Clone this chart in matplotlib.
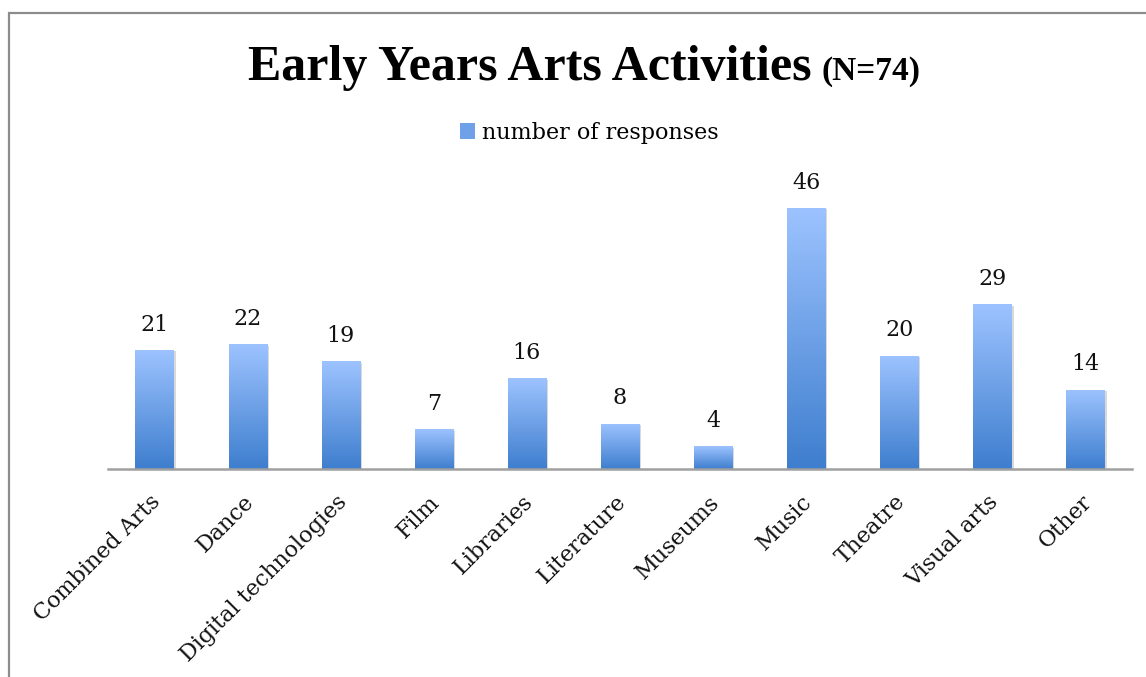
import numpy as np
import matplotlib
matplotlib.use("Agg")
import matplotlib.pyplot as plt
from matplotlib.patches import Rectangle, Patch
import matplotlib.patheffects as pe

# data
categories = ["Combined Arts", "Dance", "Digital technologies", "Film", "Libraries",
              "Literature", "Museums", "Music", "Theatre", "Visual arts", "Other"]
responses = [21, 22, 19, 7, 16, 8, 4, 46, 20, 29, 14]
series_name = "number of responses"
title_main = "Early Years Arts Activities"
title_note = "(N=74)"

top_col = np.array([157, 195, 255]) / 255.0
bot_col = np.array([62, 126, 206]) / 255.0
lab_font = "DejaVu Serif"

fig = plt.figure(figsize=(11.46, 6.77), dpi=100)
W, H = 1146, 677
ax = fig.add_axes([108 / W, 208 / H, 1024 / W, 283.7 / H])

x = np.arange(len(categories))
bw = 0.41
bars = ax.bar(x, responses, width=bw, color=bot_col, zorder=2,
              path_effects=[pe.SimplePatchShadow(offset=(1.5, -1), alpha=0.15,
                                                 shadow_rgbFace="black"),
                            pe.Normal()])

# vertical gradient per bar, light at top, dark at bottom
t = np.linspace(0, 1, 256)[:, None]
grad = (top_col[None, :] * (1 - t) + bot_col[None, :] * t)[:, None, :]
for b, xi, v in zip(bars, x, responses):
    im = ax.imshow(grad, extent=[xi - bw / 2, xi + bw / 2, 0, v], aspect="auto",
                   zorder=3, interpolation="bilinear")
    im.set_clip_path(b)
    ax.text(xi, v + 2.5, str(v), ha="center", va="bottom", fontsize=16,
            family=lab_font, color="#111111")

ax.set_xlim(-0.5, len(categories) - 0.5)
ax.set_ylim(0, 50)
ax.set_aspect("auto")
for s in ["top", "right", "left"]:
    ax.spines[s].set_visible(False)
ax.spines["bottom"].set_color("#a0a0a0")
ax.spines["bottom"].set_linewidth(1.8)
ax.spines["bottom"].set_zorder(4)
ax.set_yticks([])
ax.set_xticks(x)
ax.tick_params(axis="x", length=0, pad=0)
ax.set_xticklabels([])
off = matplotlib.transforms.ScaledTranslation(-5 / 100, -22 / 100, fig.dpi_scale_trans)
for xi, c in zip(x, categories):
    ax.text(xi, 0, c, rotation=45, rotation_mode="anchor", ha="right", va="top",
            fontsize=16, family=lab_font, color="#111111",
            transform=ax.get_xaxis_transform() + off)

# legend
fig.legend(handles=[Patch(facecolor=(top_col + bot_col) / 2, edgecolor="none")],
           labels=[series_name], loc="center", bbox_to_anchor=(589 / W, 1 - 133 / H),
           frameon=False, prop={"family": lab_font, "size": 16},
           handlelength=0.7, handleheight=0.7, handletextpad=0.3)

# title in two sizes, centred together
t1 = fig.text(0, 1 - 80 / H, title_main, fontsize=36, fontweight="bold",
              family="Liberation Serif", va="baseline", ha="left")
t2 = fig.text(0, 1 - 80 / H, title_note, fontsize=24, fontweight="bold",
              family="Liberation Serif", va="baseline", ha="left")
fig.canvas.draw()
r = fig.canvas.get_renderer()
w1 = t1.get_window_extent(r).width
w2 = t2.get_window_extent(r).width
gap = 10
start = 584.5 - (w1 + gap + w2) / 2
t1.set_x(start / W)
t2.set_x((start + w1 + gap) / W)

# outer frame (only top and left edges are within the picture)
fig.patches.append(Rectangle((9 / W, -0.1), 1.2, 1.1 - 13 / H, transform=fig.transFigure,
                             fill=False, edgecolor="#8c8c8c", linewidth=1.6))

fig.savefig("out.png", dpi=100)
